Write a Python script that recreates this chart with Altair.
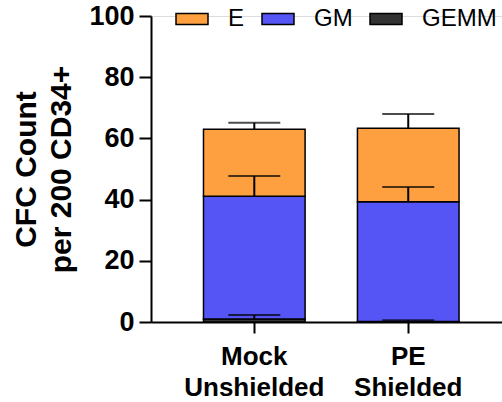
import altair as alt
import pandas as pd

# Colony counts (mean and SD) per 200 CD34+ cells, by colony type
groups = ["Mock Unshielded", "PE Shielded"]
gemm_mean = [1.0, 0.2]
gemm_sd = [1.3, 0.4]
gm_mean = [40.1, 39.1]
gm_sd = [6.6, 4.8]
e_mean = [21.9, 24.0]
e_sd = [2.1, 4.7]

types = ["E", "GM", "GEMM"]
colors = ["#FFA040", "#5555F5", "#333333"]

rows = []
for i, g in enumerate(groups):
    base = 0.0
    # stack bottom-up: GEMM, GM, E
    for t, m, s in (("GEMM", gemm_mean[i], gemm_sd[i]),
                    ("GM", gm_mean[i], gm_sd[i]),
                    ("E", e_mean[i], e_sd[i])):
        rows.append({"group": g, "type": t, "start": base, "end": base + m,
                     "err": base + m + s})
        base += m
df = pd.DataFrame(rows)

FONT = "Liberation Sans"

x_enc = alt.X(
    "group:N",
    sort=groups,
    title=None,
    scale=alt.Scale(paddingInner=0.34, paddingOuter=0.31, align=0.55),
    axis=alt.Axis(
        labelExpr="split(datum.value, ' ')",
        labelAngle=0,
        labelFont=FONT,
        labelFontWeight="bold",
        labelFontSize=26,
        labelLineHeight=31,
        labelColor="black",
        labelPadding=10,
        tickSize=11,
        tickWidth=2,
        tickColor="black",
        domainWidth=2,
        domainColor="black",
    ),
)

y_scale = alt.Scale(domain=[0, 100], nice=False)
y_axis = alt.Axis(
    values=[0, 20, 40, 60, 80, 100],
    title=["CFC Count", "per 200 CD34+"],
    titleFont=FONT,
    titleFontWeight="bold",
    titleFontSize=30,
    titleColor="black",
    titleLineHeight=35,
    titleAngle=270,
    titleBaseline="top",
    titleAlign="center",
    titleX=-140,
    titleY=153,
    labelFont=FONT,
    labelFontWeight="bold",
    labelFontSize=27,
    labelColor="black",
    labelPadding=5,
    tickSize=12,
    tickWidth=2,
    tickColor="black",
    domainWidth=2,
    domainColor="black",
    grid=False,
)

bars = alt.Chart(df).mark_bar(stroke="black", strokeWidth=1.5).encode(
    x=x_enc,
    y=alt.Y("start:Q", scale=y_scale, axis=y_axis),
    y2="end:Q",
    color=alt.Color(
        "type:N",
        scale=alt.Scale(domain=types, range=colors),
        legend=alt.Legend(
            title=None,
            orient="none",
            direction="horizontal",
            legendX=24,
            legendY=-14,
            symbolType="M-1,-0.34L1,-0.34L1,0.34L-1,0.34Z",
            symbolSize=1024,
            symbolStrokeColor="black",
            symbolStrokeWidth=1.5,
            symbolOpacity=1,
            labelFont=FONT,
            labelFontSize=24,
            labelColor="black",
            labelOffset=19,
            columnPadding=14,
            padding=0,
        ),
    ),
)

err_rule = alt.Chart(df).mark_rule(color="black", strokeWidth=2).encode(
    x=alt.X("group:N", sort=groups),
    y="end:Q",
    y2="err:Q",
)

err_cap = alt.Chart(df).mark_tick(color="black", size=52, thickness=2).encode(
    x=alt.X("group:N", sort=groups),
    y="err:Q",
)

chart = alt.layer(bars, err_rule, err_cap).properties(
    width=351,
    height=306,
    autosize=alt.AutoSizeParams(type="none"),
    padding={"left": 151, "top": 16, "right": 0, "bottom": 80},
).configure_view(stroke=None).configure(background="white")

chart.save("out.html", embed_options={"renderer": "svg", "actions": False})
